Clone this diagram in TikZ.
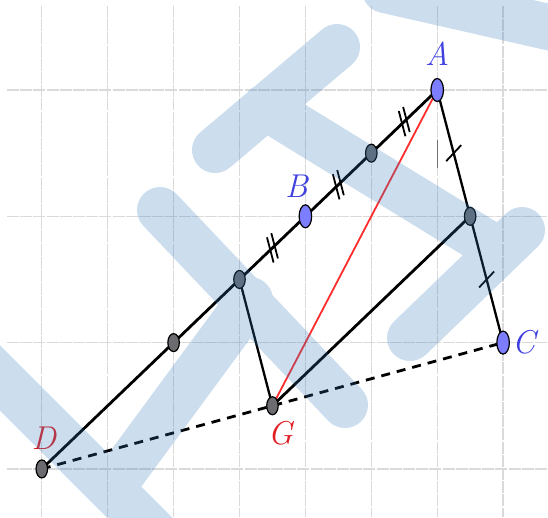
\documentclass[tikz,border=0pt]{standalone}
\usetikzlibrary{shapes.geometric, positioning, calc}
\definecolor{ptblue}{RGB}{125,125,255}
\definecolor{ptgray}{RGB}{108,108,112}
\definecolor{lblblue}{RGB}{64,64,224}
\definecolor{lblred}{RGB}{225,30,35}
\definecolor{segred}{RGB}{255,45,45}
\definecolor{gridgray}{RGB}{218,218,218}
\definecolor{markblue}{RGB}{50,122,187}

\begin{document}
\begin{tikzpicture}[
    x=1pt, y=-1pt,
    gridline/.style={gridgray, line width=1.3pt, dash pattern=on 12pt off 1.2pt},
    seg/.style={black, line width=2.8pt},
    thinseg/.style={black, line width=2.3pt},
    tick/.style={black, line width=1.8pt},
    bpt/.style={ellipse, draw=black, line width=1.2pt, fill=ptblue,
                minimum width=12.5pt, minimum height=23pt, inner sep=0pt},
    gpt/.style={ellipse, draw=black, line width=1.2pt, fill=ptgray,
                minimum width=11.5pt, minimum height=18pt, inner sep=0pt},
    lbl/.style={inner sep=0pt, font=\fontsize{33}{36}\selectfont\itshape},
    wmark/.style={markblue, opacity=0.25, line width=46pt, line cap=round, line join=round},
  ]
  \useasboundingbox (0,0) rectangle (548,517);

  % grid
  \foreach \i in {0,...,7}
    \draw[gridline] (41.8+65.9*\i,6) -- (41.8+65.9*\i,517);
  \foreach \j in {0,...,3}
    \draw[gridline] (7,90+126.3*\j) -- (548,90+126.3*\j);
  \draw[black!55, line width=1.2pt] (437.2,140) -- (437.2,168);

  % points
  \coordinate (D) at (41.8,468.9);
  \coordinate (A) at (437.2,90);
  \coordinate (C) at (503.1,342.6);
  \coordinate (Q) at ($(D)!1/3!(A)$);
  \coordinate (M) at ($(D)!1/2!(A)$);
  \coordinate (B) at ($(D)!2/3!(A)$);
  \coordinate (P) at ($(D)!5/6!(A)$);
  \coordinate (N) at ($(A)!1/2!(C)$);
  \coordinate (G) at ($(D)!1/2!(C)$);

  % segments
  \draw[seg, dash pattern=on 9pt off 7pt] (D) -- (C);
  \draw[seg] (D) -- (A);
  \draw[thinseg] (A) -- (C);
  \draw[thinseg] (M) -- (G);
  \draw[seg] (N) -- (G);
  \draw[segred, line width=1.8pt] (A) -- (G);

  % equal-length marks
  \foreach \p/\q in {M/B, B/P, P/A}
    \foreach \s in {-3,3}
      \draw[tick] ($(\p)!0.5!(\q)+(\s*0.723+3.3,\s*-0.690+12.6)$)
               -- ($(\p)!0.5!(\q)+(\s*0.723-3.3,\s*-0.690-12.6)$);
  \foreach \p/\q in {A/N, N/C}
    \draw[tick] ($(\p)!0.5!(\q)+(-7.5,8)$) -- ($(\p)!0.5!(\q)+(7.5,-8)$);

  \node[gpt] (nD) at (D) {};
  \node[gpt] (nQ) at (Q) {};
  \node[gpt] (nM) at (M) {};
  \node[gpt] (nP) at (P) {};
  \node[gpt] (nN) at (N) {};
  \node[gpt] (nG) at (G) {};
  \node[bpt] (nA) at (A) {};
  \node[bpt] (nB) at (B) {};
  \node[bpt] (nC) at (C) {};

  \node[lbl, lblblue, above=12pt of nA] (lA) {A};
  \node[lbl, lblblue, above=7pt of nB, xshift=-9pt] (lB) {B};
  \node[lbl, lblblue, right=2pt of nC] (lC) {C};
  \node[lbl, lblred, above=10pt of nD, xshift=2pt] (lD) {D};
  \node[lbl, lblred, below=6pt of nG, xshift=8pt] (lG) {G};

  % watermark
  \begin{scope}
    \clip (0,0) rectangle (548,517);
    \draw[wmark] (385,-10) -- (570,32)
      (215,150) -- (337,47)
      (265,107) -- (495,248)
      (522,230) -- (410,338)
      (160,210) -- (345,405)
      (-30,348) -- (200,578)
      (111,489) -- (250,300);
  \end{scope}
\end{tikzpicture}
\end{document}
